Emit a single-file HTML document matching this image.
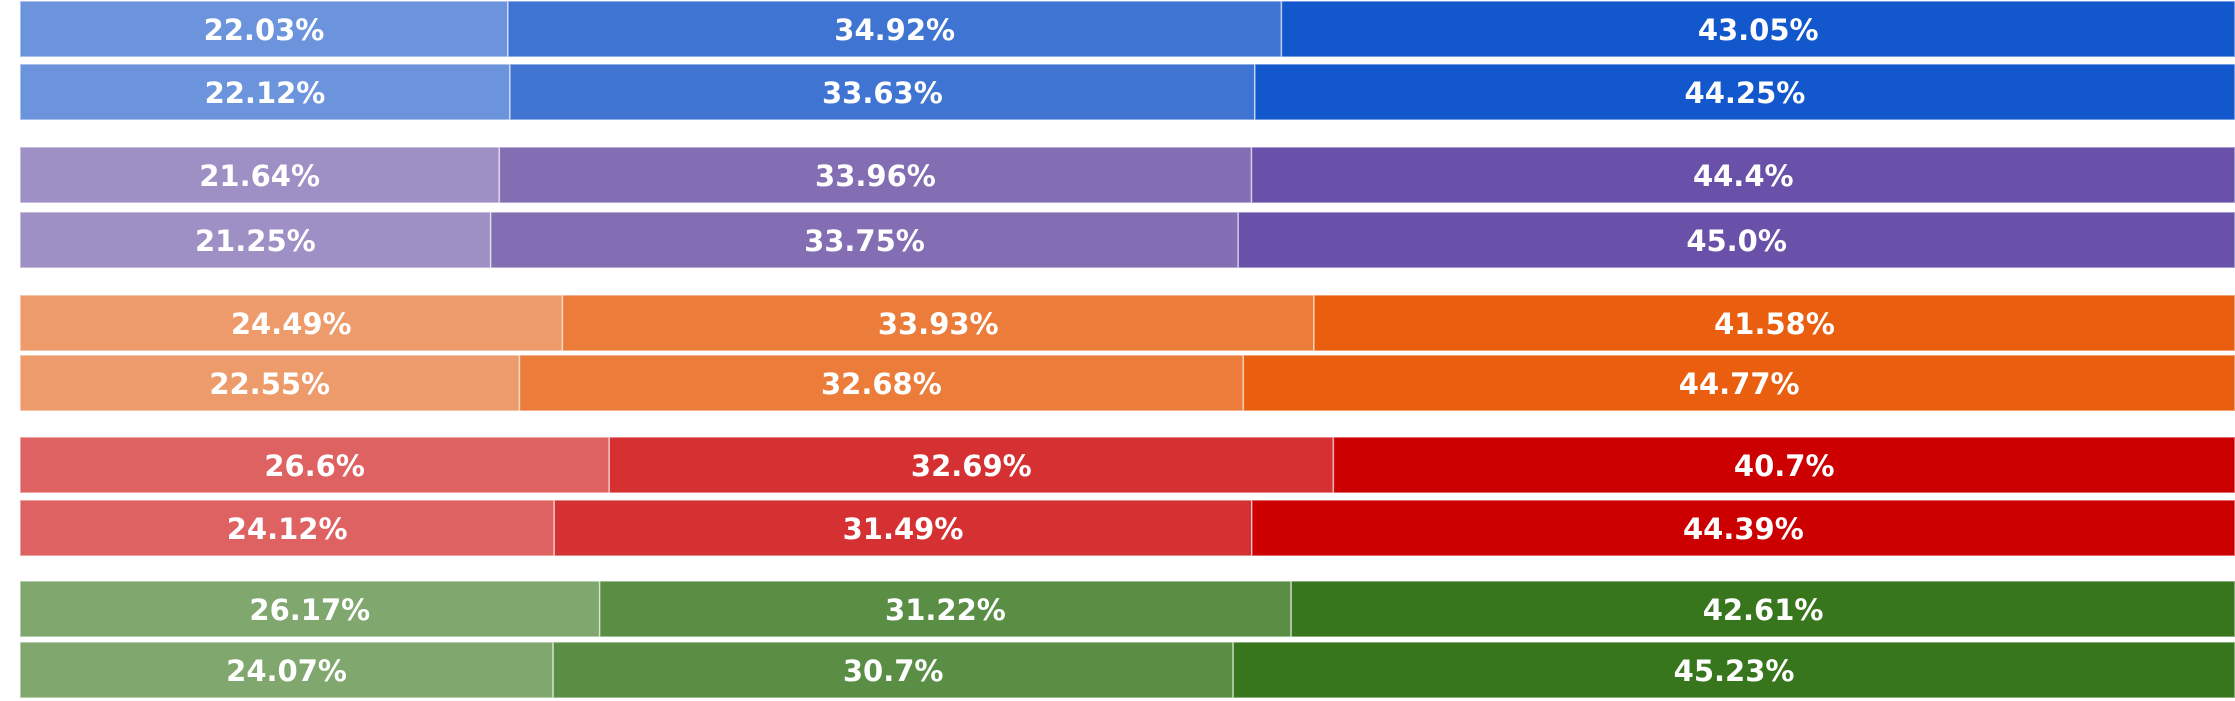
<!DOCTYPE html>
<html><head><meta charset="utf-8"><style>
html,body{margin:0;padding:0;background:#fff;width:2235px;height:701px;overflow:hidden}
svg{display:block}
text{font-family:"DejaVu Sans","Liberation Sans",sans-serif;font-weight:bold;font-size:29px;fill:#fff}
</style></head><body>
<svg id="chart" width="2235" height="701" viewBox="0 0 2235 701"></svg>
<script>
const categories = ["blue-a","blue-b","purple-a","purple-b","orange-a","orange-b","red-a","red-b","green-a","green-b"];
const seriesLow = [22.03,22.12,21.64,21.25,24.49,22.55,26.6,24.12,26.17,24.07];
const seriesMid = [34.92,33.63,33.96,33.75,33.93,32.68,32.69,31.49,31.22,30.7];
const seriesHigh = [43.05,44.25,44.4,45.0,41.58,44.77,40.7,44.39,42.61,45.23];

const palettes = [
  ["#6C94DC","#3F74D3","#1257CC"],
  ["#9E90C4","#836EB4","#6950A8"],
  ["#EE9B6C","#EC7C3A","#E95E0F"],
  ["#DF6263","#D53132","#CC0000"],
  ["#80A86E","#5B8E45","#38761D"]
];
const rowTops = [1,64,147,212,295,355,437,500,581,642];
const barH = 56;
const x0 = 20, plotW = 2215;
function xScale(v){ return x0 + v/100*plotW; }
function fmt(v){ return (Number.isInteger(v) ? v.toFixed(1) : String(v)) + '%'; }

const svg = document.getElementById('chart');
const NS = "http://www.w3.org/2000/svg";
categories.forEach((cat,i)=>{
  const vals = [seriesLow[i], seriesMid[i], seriesHigh[i]];
  const total = vals[0]+vals[1]+vals[2];
  let cum = 0;
  const g = document.createElementNS(NS,'g');
  
  
  vals.forEach((v,j)=>{
    const pct = v/total*100;
    const xa = xScale(cum), xb = xScale(cum+pct);
    const r = document.createElementNS(NS,'rect');
    r.setAttribute('x', xa); r.setAttribute('y', rowTops[i]);
    r.setAttribute('width', xb-xa); r.setAttribute('height', barH);
    r.setAttribute('fill', palettes[Math.floor(i/2)][j]);
    r.setAttribute('stroke', 'rgba(255,255,255,0.55)');
    r.setAttribute('stroke-width', '1.5');
    
    
    g.appendChild(r);
    const t = document.createElementNS(NS,'text');
    t.setAttribute('x', (xa+xb)/2); t.setAttribute('y', rowTops[i]+barH/2+11);
    t.setAttribute('text-anchor','middle');
    t.textContent = fmt(v);
    
    
    g.appendChild(t);
    cum += pct;
  });
  svg.appendChild(g);
});
</script>
</body></html>
